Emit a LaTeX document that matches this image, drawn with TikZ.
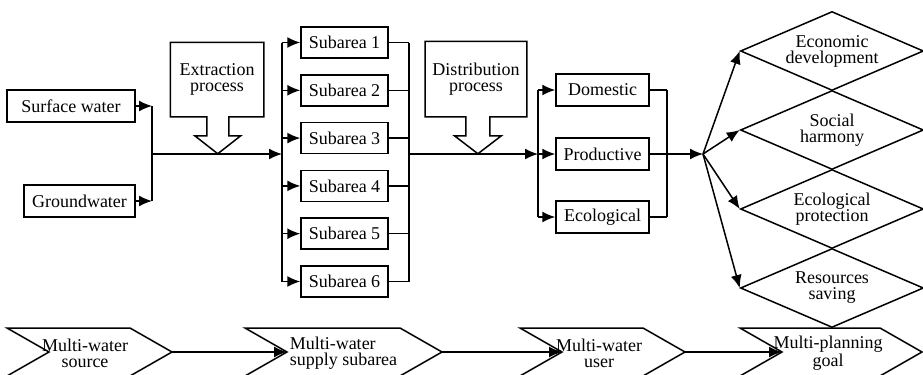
\documentclass[tikz,border=0pt]{standalone}
\usepackage{fontspec}
\setmainfont{Liberation Serif}
\usetikzlibrary{arrows.meta,shapes.geometric,positioning}

\begin{document}
\begin{tikzpicture}[x=0.5pt,y=-0.5pt,line width=0.75pt,font=\fontsize{9}{8}\selectfont]
\tikzstyle{box}=[rectangle, draw=black, minimum height=16pt, inner sep=1pt]
\tikzstyle{process}=[rectangle, minimum width=46pt, minimum height=36.5pt, align=center]
\tikzstyle{goal}=[diamond, draw=black, aspect=2.32, inner sep=0pt, minimum width=91.5pt, minimum height=39.5pt, align=center]
\tikzstyle{stage}=[align=center, inner sep=0pt]
\tikzstyle{connect}=[-{Latex[length=6.5pt,width=5.5pt]}]
\useasboundingbox (0,0) rectangle (923,375);

% sources
\node[box, minimum width=64pt] (sw) at (71,106) {Surface water};
\node[box, minimum width=55.5pt] (gw) at (79.5,201) {Groundwater};
\coordinate (srcbus) at (152,154);
\draw[connect] (sw.east) -- (sw.east -| srcbus);
\draw[connect] (gw.east) -- (gw.east -| srcbus);
\draw (sw.east -| srcbus) -- (gw.east -| srcbus);

% extraction
\node[process] (extr) at (217,79.5) {Extraction\\process};
\draw (extr.south west) |- (extr.north east) -- (extr.south east) -- ++(-35,0) -- ++(0,19)
  -- ++(12,0) -- ++(-23,18) -- ++(-23,-18) -- ++(12,0) -- ++(0,-19) -- cycle;

% subareas
\foreach \i in {1,...,6}
  \node[box, minimum width=43.5pt, minimum height=15.5pt] (sub\i) at (344.5,{42.5+47.8*(\i-1)}) {Subarea \i};
\coordinate (subin) at (282,154);
\coordinate (subout) at (409,154);
\draw[connect] (srcbus) -- (subin);
\draw (sub1.west -| subin) -- (sub6.west -| subin);
\draw (sub1.east -| subout) -- (sub6.east -| subout);
\foreach \i in {1,...,6} {
  \draw[connect] (sub\i.west -| subin) -- (sub\i.west);
  \draw (sub\i.east) -- (sub\i.east -| subout);
}

% distribution
\node[process, minimum width=49pt, minimum height=37pt] (distr) at (476,79) {Distribution\\process};
\draw (distr.south west) |- (distr.north east) -- (distr.south east) -- ++(-37,0) -- ++(0,19)
  -- ++(11.5,0) -- ++(-23.5,18) -- ++(-23.5,-18) -- ++(11.5,0) -- ++(0,-19) -- cycle;

% users
\coordinate (userin) at (538,154);
\coordinate (userout) at (667,154);
\draw[connect] (subout) -- (userin);
\node[box, minimum width=46.5pt] (dom) at (602.5,90) {Domestic};
\node[box, minimum width=46.5pt] (prod) at (602.5,154) {Productive};
\node[box, minimum width=46.5pt] (eco) at (602.5,217) {Ecological};
\draw (dom.west -| userin) -- (eco.west -| userin);
\draw (dom.east -| userout) -- (eco.east -| userout);
\foreach \u in {dom,prod,eco}
  \draw[connect] (\u.west -| userin) -- (\u.west);
\draw (dom.east) -- (dom.east -| userout);
\draw (eco.east) -- (eco.east -| userout);

% goals
\coordinate (hub) at (703,154);
\draw[connect] (prod.east) -- (hub);
\node[goal] (g1) at (832,51) {Economic\\development};
\node[goal] (g2) at (832,130) {Social\\harmony};
\node[goal] (g3) at (832,209) {Ecological\\protection};
\node[goal] (g4) at (832,288) {Resources\\saving};
\foreach \g in {g1,g2,g3,g4}
  \draw[connect] (hub) -- (\g.west);

% stages
\foreach \l/\r/\n in {7/130/1,245/400/2,520/643/3,740/880/4}
  \draw (\l,328) -- (\r,328) -- ++(42,24) coordinate (tip\n) -- ++(-42,24) -- (\l,376)
    -- ++(42,-24) coordinate (notch\n) -- cycle;
\node[stage] (s1) at (85,353) {Multi-water\\source};
\node[stage, align=left, anchor=west] (s2) at (289,353) {Multi-water\\supply subarea};
\node[stage] (s3) at (599,353) {Multi-water\\user};
\node[stage] (s4) at (828,353) {Multi-planning\\goal};
\foreach \a/\b in {1/2,2/3,3/4}
  \draw[connect] (tip\a) -- (notch\b);
\end{tikzpicture}
\end{document}
